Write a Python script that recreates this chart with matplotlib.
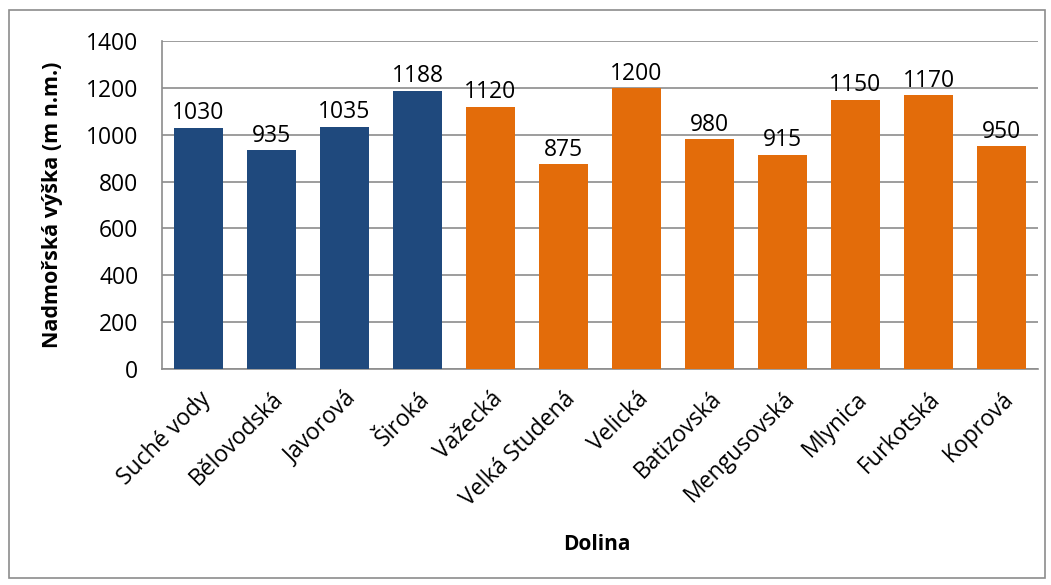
import matplotlib
matplotlib.use("Agg")
import matplotlib.pyplot as plt
from matplotlib.patches import Rectangle

# Valleys and their elevations
valleys = ["Suché vody", "Bělovodská", "Javorová", "Široká", "Važecká", "Velká Studená",
           "Velická", "Batizovská", "Mengusovská", "Mlynica", "Furkotská", "Koprová"]
heights = [1030, 935, 1035, 1188, 1120, 875, 1200, 980, 915, 1150, 1170, 950]
groups = ["blue"] * 4 + ["orange"] * 8

colors = {"blue": "#1F497D", "orange": "#E36C0A"}
yticks = [0, 200, 400, 600, 800, 1000, 1200, 1400]

plt.rcParams["font.family"] = ["Open Sans", "DejaVu Sans"]

fig = plt.figure(figsize=(10.51, 5.85), dpi=100)
ax = fig.add_axes([162 / 1051, 1 - 369 / 585, (1038 - 162) / 1051, (369 - 41) / 585])

x = list(range(len(valleys)))
bar_colors = [colors[g] for g in groups]
ax.bar(x, heights, width=0.66, color=bar_colors, zorder=3)

# value labels above bars
for xi, h in zip(x, heights):
    ax.text(xi, h + 10, str(h), ha="center", va="bottom", fontsize=16.5, color="black")

ax.set_xlim(-0.5, len(valleys) - 0.5)
ax.set_ylim(0, 1400)
ax.set_yticks(yticks)
ax.set_yticklabels([str(t) for t in yticks], fontsize=16.5)
ax.yaxis.grid(True, color="#8C8C8C", linewidth=1.2, zorder=0)
ax.tick_params(axis="y", length=0, pad=17)
ax.tick_params(axis="x", length=0, pad=13)

ax.set_xticks(x)
ax.set_xticklabels(valleys, rotation=45, ha="right", rotation_mode="anchor", fontsize=16.5)

for side in ["top", "right"]:
    ax.spines[side].set_visible(False)
for side in ["left", "bottom"]:
    ax.spines[side].set_color("#8C8C8C")
    ax.spines[side].set_linewidth(1.2)

ax.set_ylabel("Nadmořská výška (m n.m.)", fontsize=15.5, fontweight="bold")
ax.yaxis.set_label_coords((63 - 162) / 876, 0.5)
fig.text(597 / 1051, 1 - 545 / 585, "Dolina", ha="center", va="center", fontsize=15, fontweight="bold")

# outer chart border
fig.patches.append(Rectangle((9 / 1051, 1 - 578 / 585), (1045 - 9) / 1051, (578 - 10) / 585,
                             transform=fig.transFigure, fill=False, edgecolor="#8C8C8C", linewidth=1.2))

fig.savefig("out.png", dpi=100)
